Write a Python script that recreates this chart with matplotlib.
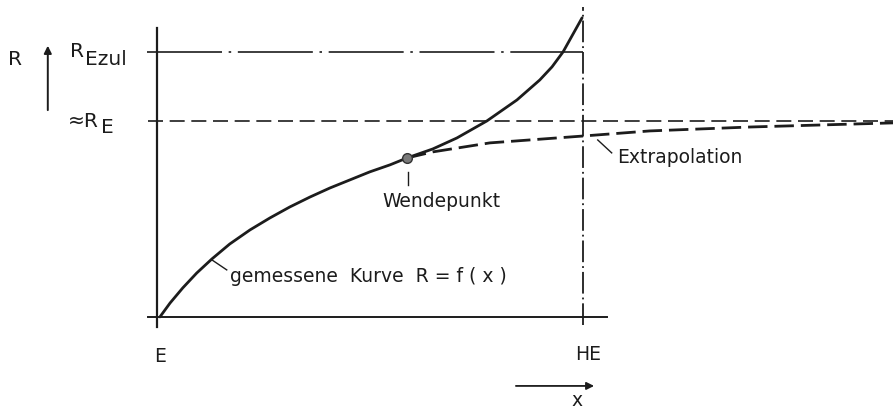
import matplotlib.pyplot as plt

# gemessene Kurve R = f(x), x normiert auf E = 0 ... HE = 1, R normiert auf R_E = 1
x_mess = [0.0, 0.024, 0.054, 0.087, 0.123, 0.165, 0.213, 0.260, 0.307, 0.355,
          0.402, 0.449, 0.496, 0.544, 0.584, 0.645, 0.702, 0.773, 0.844, 0.898,
          0.927, 0.953, 0.998]
r_mess = [0.0, 0.071, 0.148, 0.224, 0.296, 0.372, 0.444, 0.505, 0.561, 0.612,
          0.658, 0.699, 0.740, 0.776, 0.811, 0.857, 0.913, 1.0, 1.107, 1.209,
          1.276, 1.352, 1.526]

# Extrapolation ab dem Wendepunkt gegen R_E
x_extra = [0.584, 0.645, 0.780, 1.0, 1.158, 1.395, 1.733]
r_extra = [0.811, 0.842, 0.888, 0.923, 0.949, 0.969, 0.990]

wendepunkt = (0.584, 0.811)
r_e = 1.0
r_ezul = 1.352
x_he = 1.0

ink = '#1c1c1c'

fig = plt.figure(figsize=(8.93, 4.12), dpi=100)
ax = fig.add_axes([0, 0, 1, 1])
ax.set_xlim(-0.378, 1.733)
ax.set_ylim(-0.485, 1.617)
ax.axis('off')

# Achsen
ax.plot([-0.007, -0.007], [-0.05, 1.474], color=ink, lw=1.6)
ax.plot([-0.028, 1.057], [0, 0], color=ink, lw=1.4)
ax.plot([x_he, x_he], [-0.041, 1.582], color=ink, lw=1.3, dashes=(12, 2.2, 1, 2.2))

# Grenzwerte
ax.plot([-0.031, x_he], [r_ezul, r_ezul], color=ink, lw=1.2, dashes=(45, 4, 1.5, 4))
ax.plot([-0.028, 1.733], [r_e, r_e], color=ink, lw=1.2, dashes=(9, 4))

# Kurven
ax.plot(x_mess, r_mess, color=ink, lw=2.0, solid_capstyle='round', solid_joinstyle='round')
ax.plot(x_extra, r_extra, color=ink, lw=2.0, dashes=(7, 2.5))
ax.plot(*wendepunkt, 'o', ms=7, color='#7a7a7a', mec='#333333', mew=1)

txt = dict(color=ink, fontsize=13.5, family='DejaVu Sans')
big = dict(txt, fontsize=14.5)

# R-Achse mit Pfeil
ax.text(-0.359, 1.286, 'R', ha='left', va='baseline', **big)
ax.annotate('', xy=(-0.265, 1.398), xytext=(-0.265, 1.041),
            arrowprops=dict(arrowstyle='-|>', color=ink, lw=1.4, mutation_scale=11))
ax.text(-0.213, 1.327, 'R', ha='left', va='baseline', **big)
ax.text(-0.177, 1.286, 'Ezul', ha='left', va='baseline', **big)
ax.text(-0.217, 0.969, '≈R', ha='left', va='baseline', **big)
ax.text(-0.139, 0.939, 'E', ha='left', va='baseline', **big)

# Beschriftungen der Kurven
ax.plot([0.123, 0.158], [0.291, 0.240], color=ink, lw=1.0)
ax.text(0.165, 0.204, 'gemessene  Kurve  R = f ( x )', ha='left', va='center', **txt)

ax.plot([0.587, 0.587], [0.740, 0.673], color=ink, lw=1.0)
ax.text(0.525, 0.587, 'Wendepunkt', ha='left', va='center', **txt)

ax.plot([1.035, 1.068], [0.903, 0.837], color=ink, lw=1.0)
ax.text(1.080, 0.811, 'Extrapolation', ha='left', va='center', **txt)

# x-Achse
ax.text(0.0, -0.204, 'E', ha='center', va='center', **txt)
ax.text(1.012, -0.194, 'HE', ha='center', va='center', **txt)
ax.annotate('', xy=(1.033, -0.352), xytext=(0.835, -0.352),
            arrowprops=dict(arrowstyle='-|>', color=ink, lw=1.3, mutation_scale=11))
ax.text(0.986, -0.428, 'x', ha='center', va='center', **txt)

fig.savefig('out.png', dpi=100, facecolor='white')
